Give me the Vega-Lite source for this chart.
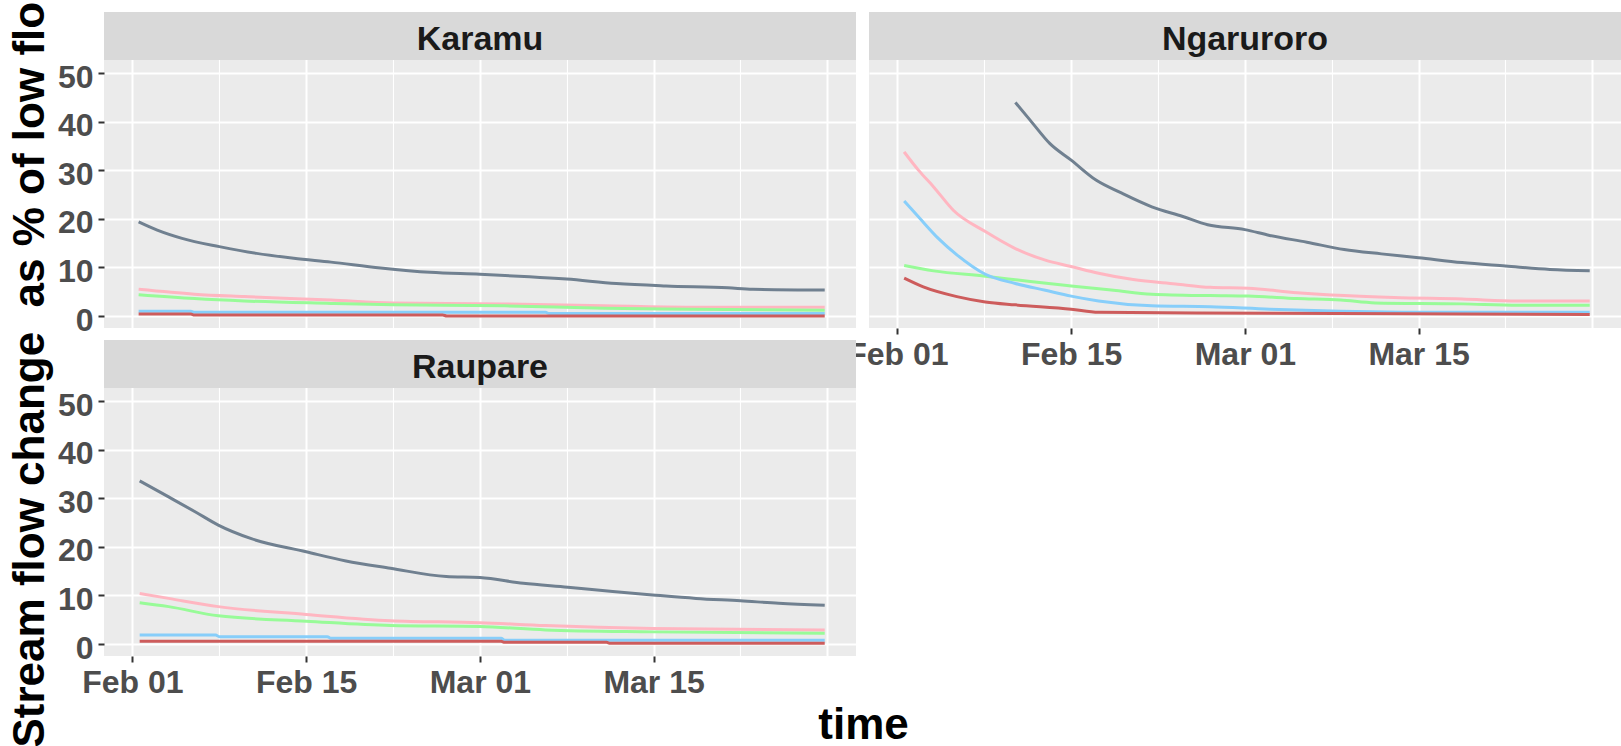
{
  "$schema": "https://vega.github.io/schema/vega-lite/v6.json",
  "background": "white",
  "padding": {"left": 8, "top": 1, "right": 2, "bottom": 0},
  "datasets": {
    "flow": [
      {"site":"Karamu","s":"A","t":"2021-02-01T12:00","v":19.4},
      {"site":"Karamu","s":"A","t":"2021-02-03T00:00","v":17.7},
      {"site":"Karamu","s":"A","t":"2021-02-05T00:00","v":16.0},
      {"site":"Karamu","s":"A","t":"2021-02-08T00:00","v":14.3},
      {"site":"Karamu","s":"A","t":"2021-02-11T00:00","v":12.9},
      {"site":"Karamu","s":"A","t":"2021-02-14T00:00","v":11.9},
      {"site":"Karamu","s":"A","t":"2021-02-17T00:00","v":11.1},
      {"site":"Karamu","s":"A","t":"2021-02-21T00:00","v":9.9},
      {"site":"Karamu","s":"A","t":"2021-02-25T00:00","v":9.0},
      {"site":"Karamu","s":"A","t":"2021-03-01T00:00","v":8.6},
      {"site":"Karamu","s":"A","t":"2021-03-05T00:00","v":8.1},
      {"site":"Karamu","s":"A","t":"2021-03-08T00:00","v":7.6},
      {"site":"Karamu","s":"A","t":"2021-03-12T00:00","v":6.7},
      {"site":"Karamu","s":"A","t":"2021-03-16T00:00","v":6.2},
      {"site":"Karamu","s":"A","t":"2021-03-21T00:00","v":5.8},
      {"site":"Karamu","s":"A","t":"2021-03-23T00:00","v":5.5},
      {"site":"Karamu","s":"A","t":"2021-03-28T19:00","v":5.35},
      {"site":"Karamu","s":"B","t":"2021-02-01T12:00","v":5.5},
      {"site":"Karamu","s":"B","t":"2021-02-06T00:00","v":4.5},
      {"site":"Karamu","s":"B","t":"2021-02-10T00:00","v":4.0},
      {"site":"Karamu","s":"B","t":"2021-02-17T00:00","v":3.3},
      {"site":"Karamu","s":"B","t":"2021-02-22T00:00","v":2.7},
      {"site":"Karamu","s":"B","t":"2021-03-03T00:00","v":2.5},
      {"site":"Karamu","s":"B","t":"2021-03-11T00:00","v":2.1},
      {"site":"Karamu","s":"B","t":"2021-03-18T00:00","v":1.8},
      {"site":"Karamu","s":"B","t":"2021-03-28T19:00","v":1.8},
      {"site":"Karamu","s":"C","t":"2021-02-01T12:00","v":4.4},
      {"site":"Karamu","s":"C","t":"2021-02-06T00:00","v":3.6},
      {"site":"Karamu","s":"C","t":"2021-02-10T00:00","v":3.1},
      {"site":"Karamu","s":"C","t":"2021-02-17T00:00","v":2.6},
      {"site":"Karamu","s":"C","t":"2021-02-22T00:00","v":2.3},
      {"site":"Karamu","s":"C","t":"2021-03-03T00:00","v":2.1},
      {"site":"Karamu","s":"C","t":"2021-03-11T00:00","v":1.6},
      {"site":"Karamu","s":"C","t":"2021-03-18T00:00","v":1.4},
      {"site":"Karamu","s":"C","t":"2021-03-28T19:00","v":1.2},
      {"site":"Karamu","s":"D","t":"2021-02-01T12:00","v":1.0},
      {"site":"Karamu","s":"D","t":"2021-02-05T17:00","v":1.0},
      {"site":"Karamu","s":"D","t":"2021-02-06T00:00","v":0.75},
      {"site":"Karamu","s":"D","t":"2021-03-06T07:00","v":0.75},
      {"site":"Karamu","s":"D","t":"2021-03-06T14:00","v":0.5},
      {"site":"Karamu","s":"D","t":"2021-03-28T19:00","v":0.5},
      {"site":"Karamu","s":"E","t":"2021-02-01T12:00","v":0.4},
      {"site":"Karamu","s":"E","t":"2021-02-05T17:00","v":0.4},
      {"site":"Karamu","s":"E","t":"2021-02-06T00:00","v":0.2},
      {"site":"Karamu","s":"E","t":"2021-02-26T00:00","v":0.2},
      {"site":"Karamu","s":"E","t":"2021-02-26T08:00","v":0.0},
      {"site":"Karamu","s":"E","t":"2021-03-28T19:00","v":0.0},

      {"site":"Ngaruroro","s":"A","t":"2021-02-10T12:00","v":44.0},
      {"site":"Ngaruroro","s":"A","t":"2021-02-11T17:00","v":40.3},
      {"site":"Ngaruroro","s":"A","t":"2021-02-13T07:00","v":35.5},
      {"site":"Ngaruroro","s":"A","t":"2021-02-15T00:00","v":32.1},
      {"site":"Ngaruroro","s":"A","t":"2021-02-17T00:00","v":28.0},
      {"site":"Ngaruroro","s":"A","t":"2021-02-19T00:00","v":25.4},
      {"site":"Ngaruroro","s":"A","t":"2021-02-21T12:00","v":22.5},
      {"site":"Ngaruroro","s":"A","t":"2021-02-24T00:00","v":20.5},
      {"site":"Ngaruroro","s":"A","t":"2021-02-26T00:00","v":18.8},
      {"site":"Ngaruroro","s":"A","t":"2021-03-01T00:00","v":17.8},
      {"site":"Ngaruroro","s":"A","t":"2021-03-03T00:00","v":16.6},
      {"site":"Ngaruroro","s":"A","t":"2021-03-06T00:00","v":15.2},
      {"site":"Ngaruroro","s":"A","t":"2021-03-09T00:00","v":13.7},
      {"site":"Ngaruroro","s":"A","t":"2021-03-12T00:00","v":12.8},
      {"site":"Ngaruroro","s":"A","t":"2021-03-15T00:00","v":12.0},
      {"site":"Ngaruroro","s":"A","t":"2021-03-18T12:00","v":11.0},
      {"site":"Ngaruroro","s":"A","t":"2021-03-22T00:00","v":10.3},
      {"site":"Ngaruroro","s":"A","t":"2021-03-25T14:00","v":9.6},
      {"site":"Ngaruroro","s":"A","t":"2021-03-28T19:00","v":9.3},
      {"site":"Ngaruroro","s":"B","t":"2021-02-01T13:00","v":33.8},
      {"site":"Ngaruroro","s":"B","t":"2021-02-02T17:00","v":30.0},
      {"site":"Ngaruroro","s":"B","t":"2021-02-03T22:00","v":26.6},
      {"site":"Ngaruroro","s":"B","t":"2021-02-05T12:00","v":21.8},
      {"site":"Ngaruroro","s":"B","t":"2021-02-08T02:00","v":17.4},
      {"site":"Ngaruroro","s":"B","t":"2021-02-10T12:00","v":13.9},
      {"site":"Ngaruroro","s":"B","t":"2021-02-12T22:00","v":11.5},
      {"site":"Ngaruroro","s":"B","t":"2021-02-15T00:00","v":10.2},
      {"site":"Ngaruroro","s":"B","t":"2021-02-17T05:00","v":8.8},
      {"site":"Ngaruroro","s":"B","t":"2021-02-20T00:00","v":7.5},
      {"site":"Ngaruroro","s":"B","t":"2021-02-23T10:00","v":6.6},
      {"site":"Ngaruroro","s":"B","t":"2021-02-26T05:00","v":5.9},
      {"site":"Ngaruroro","s":"B","t":"2021-03-01T07:00","v":5.7},
      {"site":"Ngaruroro","s":"B","t":"2021-03-05T05:00","v":4.8},
      {"site":"Ngaruroro","s":"B","t":"2021-03-09T00:00","v":4.2},
      {"site":"Ngaruroro","s":"B","t":"2021-03-13T00:00","v":3.8},
      {"site":"Ngaruroro","s":"B","t":"2021-03-18T12:00","v":3.5},
      {"site":"Ngaruroro","s":"B","t":"2021-03-23T00:00","v":3.1},
      {"site":"Ngaruroro","s":"B","t":"2021-03-28T19:00","v":3.1},
      {"site":"Ngaruroro","s":"C","t":"2021-02-01T13:00","v":10.4},
      {"site":"Ngaruroro","s":"C","t":"2021-02-03T22:00","v":9.3},
      {"site":"Ngaruroro","s":"C","t":"2021-02-08T02:00","v":8.2},
      {"site":"Ngaruroro","s":"C","t":"2021-02-11T17:00","v":7.1},
      {"site":"Ngaruroro","s":"C","t":"2021-02-15T00:00","v":6.2},
      {"site":"Ngaruroro","s":"C","t":"2021-02-18T10:00","v":5.3},
      {"site":"Ngaruroro","s":"C","t":"2021-02-21T12:00","v":4.5},
      {"site":"Ngaruroro","s":"C","t":"2021-02-26T05:00","v":4.2},
      {"site":"Ngaruroro","s":"C","t":"2021-03-01T07:00","v":4.1},
      {"site":"Ngaruroro","s":"C","t":"2021-03-05T05:00","v":3.6},
      {"site":"Ngaruroro","s":"C","t":"2021-03-08T17:00","v":3.3},
      {"site":"Ngaruroro","s":"C","t":"2021-03-11T12:00","v":2.7},
      {"site":"Ngaruroro","s":"C","t":"2021-03-18T12:00","v":2.5},
      {"site":"Ngaruroro","s":"C","t":"2021-03-23T00:00","v":2.2},
      {"site":"Ngaruroro","s":"C","t":"2021-03-28T19:00","v":2.2},
      {"site":"Ngaruroro","s":"D","t":"2021-02-01T13:00","v":23.7},
      {"site":"Ngaruroro","s":"D","t":"2021-02-02T17:00","v":20.4},
      {"site":"Ngaruroro","s":"D","t":"2021-02-04T07:00","v":16.0},
      {"site":"Ngaruroro","s":"D","t":"2021-02-05T19:00","v":12.6},
      {"site":"Ngaruroro","s":"D","t":"2021-02-08T02:00","v":8.6},
      {"site":"Ngaruroro","s":"D","t":"2021-02-10T12:00","v":6.7},
      {"site":"Ngaruroro","s":"D","t":"2021-02-12T22:00","v":5.3},
      {"site":"Ngaruroro","s":"D","t":"2021-02-15T00:00","v":4.1},
      {"site":"Ngaruroro","s":"D","t":"2021-02-17T05:00","v":3.1},
      {"site":"Ngaruroro","s":"D","t":"2021-02-21T12:00","v":2.1},
      {"site":"Ngaruroro","s":"D","t":"2021-02-26T05:00","v":1.9},
      {"site":"Ngaruroro","s":"D","t":"2021-03-03T00:00","v":1.4},
      {"site":"Ngaruroro","s":"D","t":"2021-03-08T17:00","v":1.0},
      {"site":"Ngaruroro","s":"D","t":"2021-03-18T12:00","v":0.75},
      {"site":"Ngaruroro","s":"D","t":"2021-03-28T19:00","v":0.75},
      {"site":"Ngaruroro","s":"E","t":"2021-02-01T13:00","v":7.8},
      {"site":"Ngaruroro","s":"E","t":"2021-02-03T02:00","v":6.0},
      {"site":"Ngaruroro","s":"E","t":"2021-02-05T19:00","v":4.0},
      {"site":"Ngaruroro","s":"E","t":"2021-02-08T02:00","v":2.9},
      {"site":"Ngaruroro","s":"E","t":"2021-02-10T12:00","v":2.3},
      {"site":"Ngaruroro","s":"E","t":"2021-02-15T00:00","v":1.4},
      {"site":"Ngaruroro","s":"E","t":"2021-02-17T05:00","v":0.75},
      {"site":"Ngaruroro","s":"E","t":"2021-03-03T00:00","v":0.55},
      {"site":"Ngaruroro","s":"E","t":"2021-03-18T12:00","v":0.4},
      {"site":"Ngaruroro","s":"E","t":"2021-03-28T19:00","v":0.3},

      {"site":"Raupare","s":"A","t":"2021-02-01T14:00","v":33.6},
      {"site":"Raupare","s":"A","t":"2021-02-03T22:00","v":30.3},
      {"site":"Raupare","s":"A","t":"2021-02-06T02:00","v":27.2},
      {"site":"Raupare","s":"A","t":"2021-02-07T22:00","v":24.5},
      {"site":"Raupare","s":"A","t":"2021-02-10T14:00","v":21.7},
      {"site":"Raupare","s":"A","t":"2021-02-15T00:00","v":19.0},
      {"site":"Raupare","s":"A","t":"2021-02-18T05:00","v":17.1},
      {"site":"Raupare","s":"A","t":"2021-02-21T19:00","v":15.6},
      {"site":"Raupare","s":"A","t":"2021-02-26T07:00","v":13.9},
      {"site":"Raupare","s":"A","t":"2021-03-01T00:00","v":13.7},
      {"site":"Raupare","s":"A","t":"2021-03-04T12:00","v":12.5},
      {"site":"Raupare","s":"A","t":"2021-03-08T02:00","v":11.7},
      {"site":"Raupare","s":"A","t":"2021-03-11T17:00","v":10.8},
      {"site":"Raupare","s":"A","t":"2021-03-14T22:00","v":10.1},
      {"site":"Raupare","s":"A","t":"2021-03-18T10:00","v":9.4},
      {"site":"Raupare","s":"A","t":"2021-03-22T00:00","v":8.9},
      {"site":"Raupare","s":"A","t":"2021-03-25T02:00","v":8.4},
      {"site":"Raupare","s":"A","t":"2021-03-28T19:00","v":8.0},
      {"site":"Raupare","s":"B","t":"2021-02-01T14:00","v":10.4},
      {"site":"Raupare","s":"B","t":"2021-02-03T22:00","v":9.4},
      {"site":"Raupare","s":"B","t":"2021-02-07T22:00","v":7.7},
      {"site":"Raupare","s":"B","t":"2021-02-15T00:00","v":6.1},
      {"site":"Raupare","s":"B","t":"2021-02-21T19:00","v":4.8},
      {"site":"Raupare","s":"B","t":"2021-03-01T00:00","v":4.4},
      {"site":"Raupare","s":"B","t":"2021-03-06T07:00","v":3.8},
      {"site":"Raupare","s":"B","t":"2021-03-14T22:00","v":3.2},
      {"site":"Raupare","s":"B","t":"2021-03-28T19:00","v":2.9},
      {"site":"Raupare","s":"C","t":"2021-02-01T14:00","v":8.5},
      {"site":"Raupare","s":"C","t":"2021-02-03T22:00","v":7.7},
      {"site":"Raupare","s":"C","t":"2021-02-07T22:00","v":5.8},
      {"site":"Raupare","s":"C","t":"2021-02-15T00:00","v":4.7},
      {"site":"Raupare","s":"C","t":"2021-02-21T19:00","v":3.8},
      {"site":"Raupare","s":"C","t":"2021-03-01T00:00","v":3.6},
      {"site":"Raupare","s":"C","t":"2021-03-06T07:00","v":2.9},
      {"site":"Raupare","s":"C","t":"2021-03-14T22:00","v":2.5},
      {"site":"Raupare","s":"C","t":"2021-03-28T19:00","v":2.2},
      {"site":"Raupare","s":"D","t":"2021-02-01T14:00","v":1.85},
      {"site":"Raupare","s":"D","t":"2021-02-07T17:00","v":1.85},
      {"site":"Raupare","s":"D","t":"2021-02-08T00:00","v":1.5},
      {"site":"Raupare","s":"D","t":"2021-02-16T17:00","v":1.5},
      {"site":"Raupare","s":"D","t":"2021-02-17T00:00","v":1.2},
      {"site":"Raupare","s":"D","t":"2021-03-02T17:00","v":1.2},
      {"site":"Raupare","s":"D","t":"2021-03-03T00:00","v":0.8},
      {"site":"Raupare","s":"D","t":"2021-03-28T19:00","v":0.8},
      {"site":"Raupare","s":"E","t":"2021-02-01T14:00","v":0.55},
      {"site":"Raupare","s":"E","t":"2021-03-02T17:00","v":0.55},
      {"site":"Raupare","s":"E","t":"2021-03-03T00:00","v":0.35},
      {"site":"Raupare","s":"E","t":"2021-03-11T05:00","v":0.35},
      {"site":"Raupare","s":"E","t":"2021-03-11T12:00","v":0.15},
      {"site":"Raupare","s":"E","t":"2021-03-28T19:00","v":0.15}
    ]
  },
  "columns": 2,
  "spacing": {"row": 12, "column": 13},
  "bounds": "flush",
  "concat": [
    {
      "width": 752, "height": 316,
      "layer": [
        {"data": {"values": [{"site": "Karamu"}]}, "mark": {"type": "rect", "color": "#D9D9D9"},
         "encoding": {"y": {"datum": 52.74, "type": "quantitative"}, "y2": {"datum": 62.63}}},
        {"data": {"values": [{"site": "Karamu"}]}, "mark": {"type": "text", "font": "Liberation Sans", "fontSize": 34, "fontWeight": "bold", "color": "#1A1A1A", "baseline": "alphabetic", "align": "center"},
         "encoding": {"text": {"field": "site"}, "y": {"datum": 54.8, "type": "quantitative"}}},
        {"data": {"name": "flow"}, "transform": [{"filter": "datum.site === 'Karamu'"}],
         "mark": {"type": "line", "strokeWidth": 3, "interpolate": "monotone"},
         "encoding": {
           "x": {"field": "t", "type": "temporal",
                 "scale": {"domain": [{"year": 2021, "month": 1, "date": 29, "hours": 17}, {"year": 2021, "month": 3, "date": 31, "hours": 7, "minutes": 30}], "nice": false},
                 "axis": {"values": [{"year":2021,"month":2,"date":1},{"year":2021,"month":2,"date":8},{"year":2021,"month":2,"date":15},{"year":2021,"month":2,"date":22},{"year":2021,"month":3,"date":1},{"year":2021,"month":3,"date":8},{"year":2021,"month":3,"date":15},{"year":2021,"month":3,"date":22},{"year":2021,"month":3,"date":29}],
                          "grid": true, "labels": false, "ticks": false, "title": null,
                          "gridWidth": {"condition": {"test": "date(datum.value) % 14 === 1", "value": 2}, "value": 1.1}}},
           "y": {"field": "v", "type": "quantitative",
                 "scale": {"domain": [-2.47, 62.63], "nice": false, "zero": false},
                 "axis": {"values": [0,5,10,15,20,25,30,35,40,45,50], "grid": true,
                          "labelExpr": "datum.value % 10 === 0 ? datum.label : ''",
                          "tickOpacity": {"condition": {"test": "datum.value % 10 === 0", "value": 1}, "value": 0},
                          "gridWidth": {"condition": {"test": "datum.value % 10 === 0", "value": 2}, "value": 1.1},
                          "title": "Stream flow change \u00a0as % of low flow",
                          "titleFont": "Liberation Sans", "titleFontSize": 44, "titleFontWeight": "bold", "titleColor": "#000000",
                          "titleAngle": -90, "titleAlign": "left", "titleBaseline": "alphabetic",
                          "titleX": -61, "titleY": 735, "titleLimit": 760}},
           "color": {"field": "s", "type": "nominal",
                     "scale": {"domain": ["A","B","C","D","E"], "range": ["#708090","#FFB6C1","#98FB98","#87CEFA","#CD5C5C"]},
                     "legend": null}
         }}
      ]
    },
    {
      "width": 752, "height": 316,
      "layer": [
        {"data": {"values": [{"site": "Ngaruroro"}]}, "mark": {"type": "rect", "color": "#D9D9D9"},
         "encoding": {"y": {"datum": 52.74, "type": "quantitative"}, "y2": {"datum": 62.63}}},
        {"data": {"values": [{"site": "Ngaruroro"}]}, "mark": {"type": "text", "font": "Liberation Sans", "fontSize": 34, "fontWeight": "bold", "color": "#1A1A1A", "baseline": "alphabetic", "align": "center"},
         "encoding": {"text": {"field": "site"}, "y": {"datum": 54.8, "type": "quantitative"}}},
        {"data": {"name": "flow"}, "transform": [{"filter": "datum.site === 'Ngaruroro'"}],
         "mark": {"type": "line", "strokeWidth": 3, "interpolate": "monotone"},
         "encoding": {
           "x": {"field": "t", "type": "temporal",
                 "scale": {"domain": [{"year": 2021, "month": 1, "date": 29, "hours": 17}, {"year": 2021, "month": 3, "date": 31, "hours": 7, "minutes": 30}], "nice": false},
                 "axis": {"values": [{"year":2021,"month":2,"date":1},{"year":2021,"month":2,"date":8},{"year":2021,"month":2,"date":15},{"year":2021,"month":2,"date":22},{"year":2021,"month":3,"date":1},{"year":2021,"month":3,"date":8},{"year":2021,"month":3,"date":15},{"year":2021,"month":3,"date":22},{"year":2021,"month":3,"date":29}],
                          "grid": true,
                          "labelExpr": "(date(datum.value) === 1 || date(datum.value) === 15) ? timeFormat(datum.value, '%b %d') : ''",
                          "tickOpacity": {"condition": {"test": "date(datum.value) === 1 || date(datum.value) === 15", "value": 1}, "value": 0},
                          "gridWidth": {"condition": {"test": "date(datum.value) % 14 === 1", "value": 2}, "value": 1.1},
                          "title": null}},
           "y": {"field": "v", "type": "quantitative",
                 "scale": {"domain": [-2.47, 62.63], "nice": false, "zero": false},
                 "axis": {"values": [0,5,10,15,20,25,30,35,40,45,50], "grid": true, "labels": false, "ticks": false, "title": null,
                          "gridWidth": {"condition": {"test": "datum.value % 10 === 0", "value": 2}, "value": 1.1}}},
           "color": {"field": "s", "type": "nominal",
                     "scale": {"domain": ["A","B","C","D","E"], "range": ["#708090","#FFB6C1","#98FB98","#87CEFA","#CD5C5C"]},
                     "legend": null}
         }}
      ]
    },
    {
      "width": 752, "height": 316,
      "layer": [
        {"data": {"values": [{"site": "Raupare"}]}, "mark": {"type": "rect", "color": "#D9D9D9"},
         "encoding": {"y": {"datum": 52.74, "type": "quantitative"}, "y2": {"datum": 62.63}}},
        {"data": {"values": [{"site": "Raupare"}]}, "mark": {"type": "text", "font": "Liberation Sans", "fontSize": 34, "fontWeight": "bold", "color": "#1A1A1A", "baseline": "alphabetic", "align": "center"},
         "encoding": {"text": {"field": "site"}, "y": {"datum": 54.8, "type": "quantitative"}}},
        {"data": {"name": "flow"}, "transform": [{"filter": "datum.site === 'Raupare'"}],
         "mark": {"type": "line", "strokeWidth": 3, "interpolate": "monotone"},
         "encoding": {
           "x": {"field": "t", "type": "temporal",
                 "scale": {"domain": [{"year": 2021, "month": 1, "date": 29, "hours": 17}, {"year": 2021, "month": 3, "date": 31, "hours": 7, "minutes": 30}], "nice": false},
                 "axis": {"values": [{"year":2021,"month":2,"date":1},{"year":2021,"month":2,"date":8},{"year":2021,"month":2,"date":15},{"year":2021,"month":2,"date":22},{"year":2021,"month":3,"date":1},{"year":2021,"month":3,"date":8},{"year":2021,"month":3,"date":15},{"year":2021,"month":3,"date":22},{"year":2021,"month":3,"date":29}],
                          "grid": true,
                          "labelExpr": "(date(datum.value) === 1 || date(datum.value) === 15) ? timeFormat(datum.value, '%b %d') : ''",
                          "tickOpacity": {"condition": {"test": "date(datum.value) === 1 || date(datum.value) === 15", "value": 1}, "value": 0},
                          "gridWidth": {"condition": {"test": "date(datum.value) % 14 === 1", "value": 2}, "value": 1.1},
                          "title": "time",
                          "titleFont": "Liberation Sans", "titleFontSize": 44, "titleFontWeight": "bold", "titleColor": "#000000",
                          "titleAngle": 0, "titleAlign": "center", "titleBaseline": "alphabetic",
                          "titleX": 759, "titleY": 82}},
           "y": {"field": "v", "type": "quantitative",
                 "scale": {"domain": [-2.47, 62.63], "nice": false, "zero": false},
                 "axis": {"values": [0,5,10,15,20,25,30,35,40,45,50], "grid": true,
                          "labelExpr": "datum.value % 10 === 0 ? datum.label : ''",
                          "tickOpacity": {"condition": {"test": "datum.value % 10 === 0", "value": 1}, "value": 0},
                          "gridWidth": {"condition": {"test": "datum.value % 10 === 0", "value": 2}, "value": 1.1},
                          "title": null}},
           "color": {"field": "s", "type": "nominal",
                     "scale": {"domain": ["A","B","C","D","E"], "range": ["#708090","#FFB6C1","#98FB98","#87CEFA","#CD5C5C"]},
                     "legend": null}
         }}
      ]
    }
  ],
  "config": {
    "font": "Liberation Sans",
    "view": {"fill": "#EBEBEB", "stroke": null},
    "axis": {
      "domain": false,
      "grid": true,
      "gridColor": "#FFFFFF",
      "gridOpacity": 1,
      "tickColor": "#333333",
      "tickWidth": 2,
      "tickSize": 6,
      "labelFont": "Liberation Sans",
      "labelFontSize": 32,
      "labelFontWeight": "bold",
      "labelColor": "#4D4D4D",
      "labelPadding": 5,
      "labelOverlap": false,
      "labelFlush": false,
      "labelBound": false
    },
    "axisY": {"labelOffset": 4},
    "style": {"guide-title": {"ellipsis": "\u200b"}}
  }
}
